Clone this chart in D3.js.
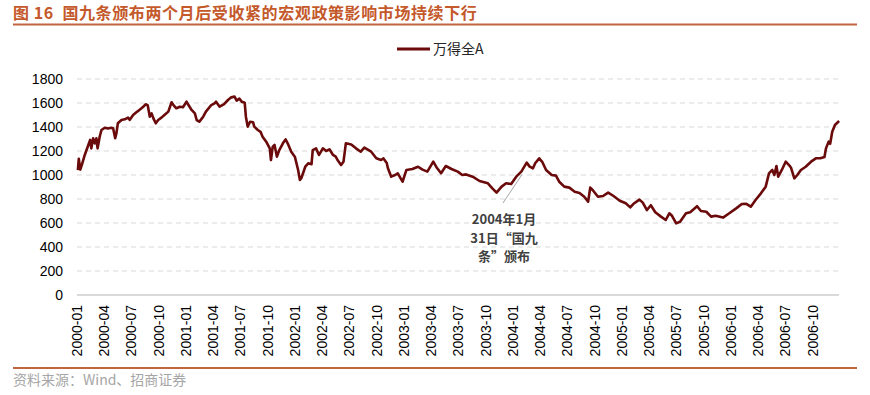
<!DOCTYPE html>
<html>
<head>
<meta charset="utf-8">
<script src="https://cdn.jsdelivr.net/npm/d3@7"></script>
<style>
  html, body { margin: 0; padding: 0; background: #fff; }
  svg { display: block; }
</style>
</head>
<body>
<div id="chart"></div>
<script>
(function() {
  'use strict';

  var seriesName = '万得全A';

  var dates = [
    '2000-01-04','2000-01-07','2000-01-12','2000-01-17','2000-01-27','2000-02-08','2000-02-14','2000-02-18',
    '2000-02-24','2000-03-01','2000-03-06','2000-03-10','2000-03-17','2000-03-23','2000-04-03','2000-04-14',
    '2000-04-25','2000-05-01','2000-05-08','2000-05-12','2000-05-17','2000-05-29','2000-06-09','2000-06-20',
    '2000-06-26','2000-07-07','2000-07-18','2000-07-28','2000-08-10','2000-08-18','2000-08-25','2000-09-01',
    '2000-09-07','2000-09-13','2000-09-21','2000-09-29','2000-10-10','2000-10-20','2000-11-02','2000-11-13',
    '2000-11-20','2000-11-29','2000-12-11','2000-12-21','2001-01-02','2001-01-08','2001-01-19','2001-01-30',
    '2001-02-05','2001-02-14','2001-02-22','2001-02-27','2001-03-08','2001-03-26','2001-04-06','2001-04-11',
    '2001-04-23','2001-05-08','2001-05-21','2001-06-01','2001-06-12','2001-06-19','2001-06-28','2001-07-06',
    '2001-07-16','2001-07-20','2001-07-26','2001-08-03','2001-08-13','2001-08-17','2001-08-29','2001-09-07',
    '2001-09-14','2001-09-26','2001-10-08','2001-10-12','2001-10-18','2001-10-24','2001-11-01','2001-11-09',
    '2001-11-21','2001-11-30','2001-12-07','2001-12-19','2001-12-31','2002-01-11','2002-01-17','2002-01-22',
    '2002-02-04','2002-02-14','2002-02-25','2002-03-01','2002-03-12','2002-03-22','2002-04-04','2002-04-15',
    '2002-04-26','2002-05-08','2002-05-17','2002-05-23','2002-06-04','2002-06-12','2002-06-20','2002-07-08',
    '2002-07-24','2002-08-09','2002-08-21','2002-09-13','2002-09-30','2002-10-16','2002-10-24','2002-11-04',
    '2002-11-08','2002-11-19','2002-12-02','2002-12-11','2002-12-27','2003-01-09','2003-01-29','2003-02-17',
    '2003-03-04','2003-03-20','2003-04-09','2003-04-21','2003-05-05','2003-05-21','2003-06-09','2003-06-30',
    '2003-07-15','2003-07-28','2003-08-19','2003-09-11','2003-10-09','2003-10-24','2003-11-07','2003-11-24',
    '2003-12-09','2003-12-26','2004-01-12','2004-01-29','2004-02-16','2004-02-26','2004-03-08','2004-03-16',
    '2004-03-29','2004-04-08','2004-04-21','2004-05-10','2004-05-24','2004-06-04','2004-06-21','2004-07-08',
    '2004-07-26','2004-08-11','2004-08-27','2004-09-09','2004-09-16','2004-09-24','2004-10-12','2004-10-29',
    '2004-11-15','2004-12-03','2004-12-24','2005-01-13','2005-01-28','2005-02-08','2005-02-28','2005-03-11',
    '2005-03-25','2005-04-07','2005-04-22','2005-05-11','2005-05-27','2005-06-08','2005-06-17','2005-07-01',
    '2005-07-14','2005-08-03','2005-08-17','2005-09-09','2005-09-22','2005-10-10','2005-10-26','2005-11-10',
    '2005-12-05','2005-12-26','2006-01-18','2006-02-06','2006-02-21','2006-03-08','2006-03-24','2006-04-11',
    '2006-04-27','2006-05-08','2006-05-19','2006-05-26','2006-06-02','2006-06-08','2006-06-20','2006-07-03',
    '2006-07-14','2006-07-21','2006-08-01','2006-08-11','2006-08-23','2006-09-08','2006-09-26','2006-10-12',
    '2006-10-27','2006-11-10','2006-11-15','2006-11-24','2006-11-29','2006-12-06','2006-12-15','2006-12-29'
  ];

  var values = [
    1040,1135,1045,1083,1167,1250,1292,1222,
    1306,1264,1306,1222,1319,1375,1394,1388,
    1394,1390,1306,1347,1431,1458,1464,1478,
    1460,1500,1522,1542,1569,1589,1582,1486,
    1514,1472,1431,1458,1478,1500,1528,1606,
    1580,1556,1569,1565,1611,1585,1542,1514,
    1458,1444,1470,1486,1528,1583,1597,1611,
    1569,1590,1625,1647,1653,1620,1636,1611,
    1603,1486,1403,1444,1440,1403,1375,1360,
    1319,1278,1222,1125,1236,1250,1153,1208,
    1264,1297,1264,1194,1153,1042,958,975,
    1069,1097,1090,1208,1222,1167,1222,1200,
    1214,1167,1153,1125,1083,1110,1264,1255,
    1222,1194,1228,1194,1140,1125,1138,1100,
    1056,986,1000,1014,944,1042,1050,1069,
    1045,1028,1111,1060,1014,1075,1050,1028,
    1000,1005,986,950,931,889,853,903,
    931,925,986,1028,1103,1070,1056,1100,
    1139,1110,1042,1000,995,944,903,895,
    861,850,819,778,895,875,819,825,
    853,825,785,764,730,760,795,770,
    708,748,690,653,625,681,660,597,
    610,681,690,740,700,694,653,660,
    645,681,722,758,760,736,792,847,
    903,1014,1042,1000,1075,986,1042,1111,
    1083,1060,972,1000,1042,1069,1111,1139,
    1140,1150,1222,1278,1260,1361,1417,1450
  ];

  var yTicks = [0, 200, 400, 600, 800, 1000, 1200, 1400, 1600, 1800];

  var xTickLabels = [
    '2000-01','2000-04','2000-07','2000-10','2001-01','2001-04','2001-07','2001-10',
    '2002-01','2002-04','2002-07','2002-10','2003-01','2003-04','2003-07','2003-10',
    '2004-01','2004-04','2004-07','2004-10','2005-01','2005-04','2005-07','2005-10',
    '2006-01','2006-04','2006-07','2006-10'
  ];

  var title = '图 16  国九条颁布两个月后受收紧的宏观政策影响市场持续下行';
  var source = '资料来源：Wind、招商证券';
  var noteLines = ['2004年1月', '31日“国九', '条”颁布'];
  var noteDate = '2004-01-31';

  var width = 870, height = 395;
  var margin = { left: 77, right: 30, top: 79, bottom: 100 };
  var cjk = '"Noto Sans CJK SC", "Liberation Sans", Arial, sans-serif';
  var latin = '"Liberation Sans", Arial, sans-serif';
  var accent = '#C0653F';
  var lineColor = '#6B0A0A';

  var parseDay = d3.timeParse('%Y-%m-%d');
  var parseMonth = d3.timeParse('%Y-%m');

  var data = dates.map(function(d, i) {
    return { date: parseDay(d), value: values[i] };
  });

  var svg = d3.select('#chart')
    .append('svg')
    .attr('width', width)
    .attr('height', height);

  var x = d3.scaleTime()
    .domain([new Date(2000, 0, 1), new Date(2007, 0, 1)])
    .range([margin.left, width - margin.right]);

  var y = d3.scaleLinear()
    .domain([0, 1800])
    .range([height - margin.bottom, margin.top]);

  // title + rules
  svg.append('text')
    .attr('x', 13)
    .attr('y', 19)
    .style('font-family', cjk)
    .style('font-weight', 'bold')
    .style('font-size', '16px')
    .style('letter-spacing', '0.6px')
    .style('fill', '#C4592B')
    .style('white-space', 'pre')
    .text(title);

  svg.append('line')
    .attr('x1', 13).attr('x2', 857)
    .attr('y1', 24.5).attr('y2', 24.5)
    .style('stroke', accent)
    .style('stroke-width', 2);

  svg.append('line')
    .attr('x1', 13).attr('x2', 857)
    .attr('y1', 368).attr('y2', 368)
    .style('stroke', accent)
    .style('stroke-width', 2);

  svg.append('text')
    .attr('x', 13)
    .attr('y', 385)
    .style('font-family', cjk)
    .style('font-size', '14px')
    .style('fill', '#A6A6A6')
    .text(source);

  // legend
  svg.append('line')
    .attr('x1', 397).attr('x2', 430)
    .attr('y1', 49).attr('y2', 49)
    .style('stroke', lineColor)
    .style('stroke-width', 3);

  svg.append('text')
    .attr('x', 433)
    .attr('y', 49)
    .attr('dy', '0.36em')
    .style('font-family', cjk)
    .style('font-size', '14px')
    .style('fill', '#262626')
    .text(seriesName);

  // grid
  svg.append('g')
    .selectAll('line')
    .data(yTicks.filter(function(t) { return t > 0; }))
    .enter().append('line')
    .attr('x1', x.range()[0]).attr('x2', x.range()[1] - 1)
    .attr('y1', function(d) { return y(d); })
    .attr('y2', function(d) { return y(d); })
    .style('stroke', '#D9D9D9')
    .style('stroke-width', 1)
    .style('stroke-dasharray', '5,4');

  svg.append('g')
    .selectAll('text')
    .data(yTicks)
    .enter().append('text')
    .attr('x', 63)
    .attr('y', function(d) { return y(d); })
    .attr('dy', '0.36em')
    .style('text-anchor', 'end')
    .style('font-family', latin)
    .style('font-size', '14px')
    .style('fill', '#000')
    .text(function(d) { return d; });

  // baseline
  svg.append('line')
    .attr('x1', x.range()[0]).attr('x2', x.range()[1] - 1)
    .attr('y1', y(0)).attr('y2', y(0))
    .style('stroke', '#D9D9D9')
    .style('stroke-width', 2);

  svg.append('g')
    .selectAll('text')
    .data(xTickLabels)
    .enter().append('text')
    .attr('transform', function(d) {
      return 'translate(' + x(parseMonth(d)) + ',305) rotate(-90)';
    })
    .attr('dy', '0.36em')
    .style('text-anchor', 'end')
    .style('font-family', latin)
    .style('font-size', '14px')
    .style('fill', '#000')
    .text(function(d) { return d; });

  // series
  var line = d3.line()
    .x(function(d) { return x(d.date); })
    .y(function(d) { return y(d.value); });

  svg.append('path')
    .datum(data)
    .attr('d', line)
    .style('fill', 'none')
    .style('stroke', lineColor)
    .style('stroke-width', 2.6)
    .style('stroke-linejoin', 'round');

  // annotation
  var nd = parseDay(noteDate);
  var nv = values[dates.indexOf('2004-01-29')];
  svg.append('line')
    .attr('x1', 503).attr('y1', 203)
    .attr('x2', x(nd)).attr('y2', y(nv) + 3)
    .style('stroke', '#A6A6A6')
    .style('stroke-width', 1);

  svg.append('g')
    .selectAll('text')
    .data(noteLines)
    .enter().append('text')
    .attr('x', 504)
    .attr('y', function(d, i) { return 224 + i * 18.5; })
    .style('text-anchor', 'middle')
    .style('font-family', cjk)
    .style('font-weight', 'bold')
    .style('font-size', '13px')
    .style('fill', '#404040')
    .text(function(d) { return d; });
})();
</script>
</body>
</html>
